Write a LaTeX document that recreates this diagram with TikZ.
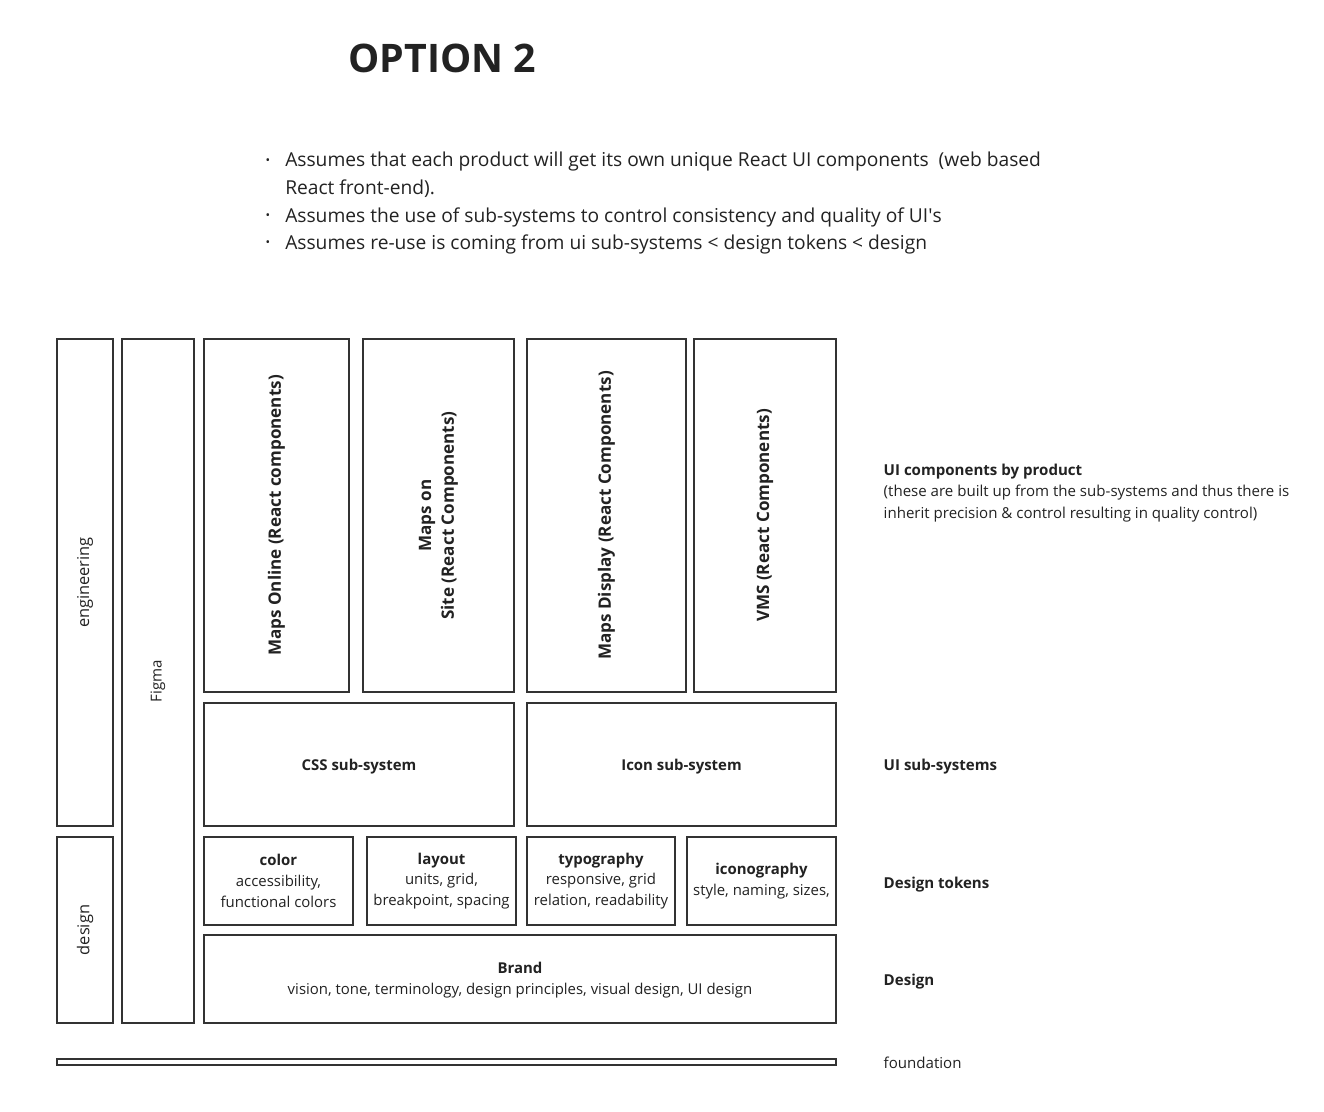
\documentclass[tikz,border=0pt]{standalone}
\usepackage{fontspec}
\setmainfont{Open Sans}
\usetikzlibrary{fit}
\definecolor{ink}{HTML}{222222}
\definecolor{edge}{HTML}{333333}
\begin{document}
\begin{tikzpicture}[x=0.75pt,y=-0.75pt,
  box/.style={draw=edge,line width=1.7pt,inner sep=0pt,fill=white},
  lbl/.style={text=ink,font=\fontsize{12.8}{17}\selectfont\bfseries,align=center},
  vlbl/.style={lbl,rotate=90},
  tok/.style={text=ink,font=\fontsize{11.2}{15.5}\selectfont,align=center},
  side/.style={text=ink,anchor=west,align=left,font=\fontsize{11.3}{16}\selectfont},
  bul/.style={text=ink,anchor=north west,font=\fontsize{14.4}{20.6}\selectfont}]
\useasboundingbox (0,0) rectangle (1324,1111);
% title
\node[text=ink,anchor=west,font=\fontsize{29.5}{36}\selectfont\bfseries,inner sep=0] (title) at (348,58) {OPTION 2};
% bullets
\node[bul,anchor=west,inner sep=0] (b1) at (285,162) {Assumes that each product will get its own unique React UI components\ \ (web based};
\node[bul,anchor=west,inner sep=0] (b1b) at (285,189) {React front-end).};
\node[bul,anchor=west,inner sep=0] (b2) at (285,217) {Assumes the use of sub-systems to control consistency and quality of UI\textquotesingle s};
\node[bul,anchor=west,inner sep=0] (b3) at (285,244) {Assumes re-use is coming from ui sub-systems < design tokens < design};
\foreach \yy/\nm in {162/d1,217/d2,244/d3}{\node[text=ink,inner sep=0,font=\fontsize{9}{9}\selectfont] (\nm) at (268,\yy) {\textbullet};}
% boxes
\node[box,fit={(57,339) (113,826)}] (eng) {};
\node[vlbl,font=\fontsize{12.3}{14}\selectfont] at (eng.center) {engineering};
\node[box,fit={(57,837) (113,1023)}] (des) {};
\node[vlbl,font=\fontsize{12.3}{14}\selectfont] at (des.center) {design};
\node[box,fit={(122,339) (194,1023)}] (fig) {};
\node[vlbl,font=\fontsize{11.3}{14}\selectfont] at (158,681) {Figma};
\node[box,fit={(204,339) (349,692)}] (mo) {};
\node[vlbl] at (mo.center) {Maps Online (React components)};
\node[box,fit={(363,339) (514,692)}] (ms) {};
\node[vlbl] at (ms.center) {Maps on\\Site (React Components)};
\node[box,fit={(527,339) (686,692)}] (md) {};
\node[vlbl] at (md.center) {Maps Display (React Components)};
\node[box,fit={(694,339) (836,692)}] (vms) {};
\node[vlbl] at (vms.center) {VMS (React Components)};
\node[box,fit={(204,703) (514,826)}] (css) {};
\node[lbl,font=\fontsize{11.2}{15}\selectfont\bfseries] at ([yshift=-1.5pt]css.center) {CSS sub-system};
\node[box,fit={(527,703) (836,826)}] (icon) {};
\node[lbl,font=\fontsize{11.2}{15}\selectfont\bfseries] at ([yshift=-1.5pt]icon.center) {Icon sub-system};
\node[box,fit={(204,837) (353,925)}] (col) {};
\node[tok] at (col.center) {\textbf{color}\\accessibility,\\functional colors};
\node[box,fit={(367,837) (516,925)}] (lay) {};
\node[tok] at (lay.center) {\textbf{layout}\\units, grid,\\breakpoint, spacing};
\node[box,fit={(527,837) (675,925)}] (typ) {};
\node[tok] at (typ.center) {\textbf{typography}\\responsive, grid\\relation, readability};
\node[box,fit={(687,837) (836,925)}] (ico) {};
\node[tok] at (ico.center) {\textbf{iconography}\\style, naming, sizes,};
\node[box,fit={(204,935) (836,1023)}] (brand) {};
\node[tok] at ([yshift=-1pt]brand.center) {\textbf{Brand}\\vision, tone, terminology, design principles, visual design, UI design};
\node[box,line width=1.4pt,fit={(57,1059) (836,1065)}] (found) {};
% side labels
\node[side] (s1) at (879,493) {\textbf{UI components by product}\\(these are built up from the sub-systems and thus there is\\inherit precision \& control resulting in quality control)};
\node[side] (s2) at (879,767) {\textbf{UI sub-systems}};
\node[side] (s3) at (879,885) {\textbf{Design tokens}};
\node[side] (s4) at (879,982) {\textbf{Design}};
\node[side] (s5) at (879,1063) {foundation};
\end{tikzpicture}
\end{document}
